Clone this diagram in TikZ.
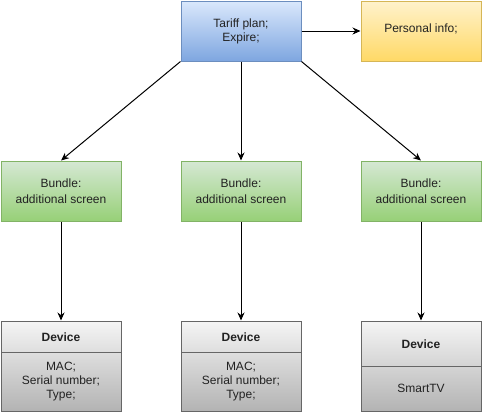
\documentclass[tikz,border=0pt]{standalone}
\usepackage{fontspec}
\setmainfont{Liberation Sans}
\usetikzlibrary{arrows.meta}

\definecolor{planTop}{HTML}{DAE8FC}
\definecolor{planBot}{HTML}{7EA6E0}
\definecolor{planLine}{HTML}{6C8EBF}
\definecolor{infoTop}{HTML}{FFF2CC}
\definecolor{infoBot}{HTML}{FFD966}
\definecolor{infoLine}{HTML}{D6B656}
\definecolor{bundleTop}{HTML}{D5E8D4}
\definecolor{bundleBot}{HTML}{97D077}
\definecolor{bundleLine}{HTML}{82B366}
\definecolor{devTop}{HTML}{F5F5F5}
\definecolor{devBot}{HTML}{B3B3B3}
\definecolor{devLine}{HTML}{666666}
\definecolor{txtGray}{HTML}{222222}

\tikzset{
    box/.style={rectangle, minimum width=120pt, minimum height=60pt, inner sep=0pt,
        align=center, line width=1pt, text=txtGray, font=\fontsize{12}{14}\selectfont},
    planbox/.style={box, draw=planLine, top color=planTop, bottom color=planBot},
    infobox/.style={box, draw=infoLine, top color=infoTop, bottom color=infoBot},
    bundlebox/.style={box, draw=bundleLine, top color=bundleTop, bottom color=bundleBot},
    devbox/.style={box, minimum height=90pt, draw=devLine, top color=devTop, bottom color=devBot},
    txt/.style={align=center, inner sep=0pt, text=txtGray, font=\fontsize{12}{14}\selectfont},
}

\begin{document}
\begin{tikzpicture}[x=1pt,y=-1pt,>={Stealth[length=8pt,width=7pt]}]
        \useasboundingbox (0,0) rectangle (483,413);
        \node[planbox] (plan) at (241,31){Tariff plan;\\Expire;};
        \node[infobox] (info) at (421,31){\raisebox{5pt}{Personal info;}};
        \foreach \n/\x in {a/61,b/241,c/421}
        {
            \node[bundlebox] (bundle\n) at (\x,191){Bundle:\\[2pt]additional screen};
            \node[devbox] (dev\n) at (\x,366){};
        }
        \foreach \n/\x in {a/61,b/241}
        {
            \draw[devLine,line width=1pt] (\x-60,352)--(\x+60,352);
            \node[txt,font=\fontsize{12}{14}\selectfont\bfseries] (head\n) at (\x,337){Device};
            \node[txt] (body\n) at (\x,382){MAC;\\Serial number;\\Type;};
        }
        \draw[devLine,line width=1pt] (361,366)--(481,366);
        \node[txt,font=\fontsize{12}{14}\selectfont\bfseries] (headc) at (421,344){Device};
        \node[txt] (bodyc) at (421,388.5){SmartTV};
        \draw[->,line width=1pt] (plan.east)--(info.west);
        \draw[->,line width=1pt] (plan.south west)--(bundlea.north);
        \draw[->,line width=1pt] (plan.south)--(bundleb.north);
        \draw[->,line width=1pt] (plan.south east)--(bundlec.north);
        \foreach \n in {a,b,c}
        {
            \draw[->,line width=1pt] (bundle\n.south)--(dev\n.north);
        }
    \end{tikzpicture}
\end{document}
